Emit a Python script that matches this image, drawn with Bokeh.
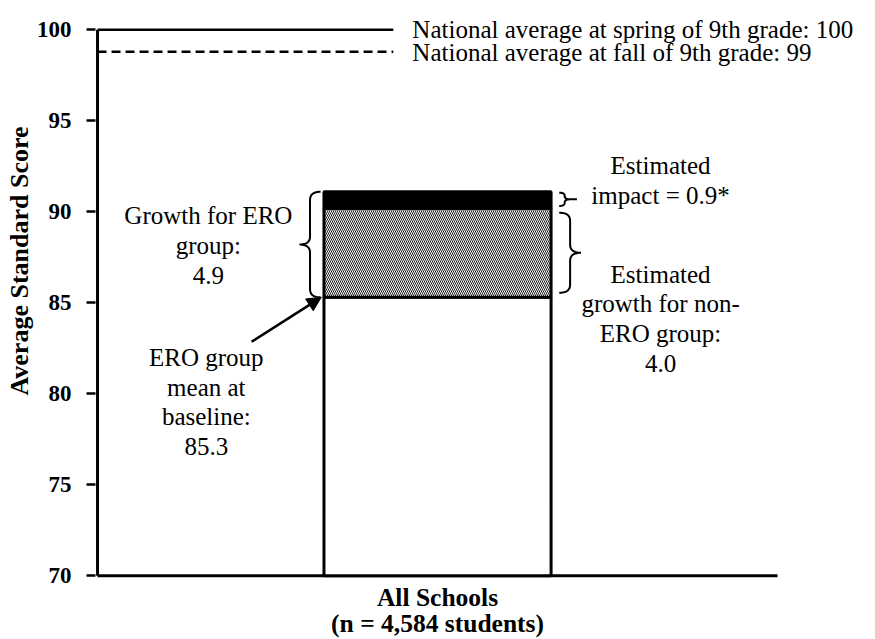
import numpy as np
from bokeh.plotting import figure
from bokeh.models import Label, Arrow, NormalHead, FixedTicker, Range1d
from bokeh.embed import file_html
from bokeh.resources import INLINE

# ---- data ----
categories = ["All Schools\n(n = 4,584 students)"]
baseline_mean = [85.3]
ero_growth = [4.9]
impact = [0.9]
non_ero_growth = [4.0]
national_spring = [100]
national_fall = [98.8]
y_ticks = [70, 75, 80, 85, 90, 95, 100]
y_min, y_max = 70, 100

FONT = "Liberation Serif"
BLACK = "#000000"

p = figure(frame_width=770, frame_height=570,
           x_range=Range1d(-0.003, 1.1294), y_range=Range1d(69.85, 101.17),
           output_backend="svg", toolbar_location=None,
           min_border_left=95, min_border_right=0,
           min_border_top=8, min_border_bottom=50)
p.outline_line_color = None
p.xgrid.visible = False
p.ygrid.visible = False
p.background_fill_color = "white"
p.border_fill_color = "white"

xc = [0.5]
bw = 0.334
base = [y_min]
ero_top = [b + g for b, g in zip(baseline_mean, ero_growth)]
bar_top = [e + i for e, i in zip(ero_top, impact)]

# axis lines (drawn as segments so they stop where the reference does)
p.segment(x0=[0], y0=[y_min], x1=[0], y1=[y_max], line_color=BLACK, line_width=3)
p.segment(x0=[0], y0=[y_min], x1=[1], y1=[y_min], line_color=BLACK, line_width=3)

p.vbar(x=xc, width=bw, bottom=base, top=baseline_mean, fill_color="white",
       line_color=BLACK, line_width=3)
p.vbar(x=xc, width=bw, bottom=baseline_mean, top=ero_top, fill_color="white",
       hatch_pattern="\\", hatch_color=BLACK, hatch_scale=4, hatch_weight=0.9,
       line_color=BLACK, line_width=3)
p.vbar(x=xc, width=bw, bottom=ero_top, top=bar_top, fill_color=BLACK,
       line_color=BLACK, line_width=3)

# national averages
line_end = 0.435
p.segment(x0=[0], y0=national_spring, x1=[line_end], y1=national_spring,
          line_color=BLACK, line_width=2.5)
p.segment(x0=[0], y0=national_fall, x1=[line_end], y1=national_fall,
          line_color=BLACK, line_width=2.5, line_dash="9 5")


def lab(x, y, text, align="center", size="25px"):
    p.add_layout(Label(x=x, y=y, text=text, text_font=FONT, text_font_size=size,
                       text_align=align, text_baseline="middle",
                       text_line_height=1.1, text_color=BLACK))


lab(0.463, national_spring[0] + 0.02, f"National average at spring of 9th grade: {national_spring[0]}", align="left")
lab(0.463, national_fall[0] - 0.05, f"National average at fall of 9th grade: {round(national_fall[0])}", align="left")
lab(0.163, 88.14, f"Growth for ERO\ngroup:\n{ero_growth[0]}")
lab(0.160, 79.54, f"ERO group\nmean at\nbaseline:\n{baseline_mean[0]}")
lab(0.828, 91.72, f"Estimated\nimpact = {impact[0]}*")
lab(0.828, 84.13, f"Estimated\ngrowth for non-\nERO group:\n{non_ero_growth[0]}")


def brace(x_base, x_tip, y0, y1, r):
    xm = (x_base + x_tip) / 2
    ym = (y0 + y1) / 2
    t = np.linspace(0, 1, 14)

    def quad(a, c, b):
        return ((1 - t) ** 2 * a[0] + 2 * (1 - t) * t * c[0] + t ** 2 * b[0],
                (1 - t) ** 2 * a[1] + 2 * (1 - t) * t * c[1] + t ** 2 * b[1])
    segs = [quad((x_base, y1), (xm, y1), (xm, y1 - r)),
            quad((xm, ym + r), (xm, ym), (x_tip, ym)),
            quad((x_tip, ym), (xm, ym), (xm, ym - r)),
            quad((xm, y0 + r), (xm, y0), (x_base, y0))]
    return np.concatenate([s[0] for s in segs]), np.concatenate([s[1] for s in segs])


left = xc[0] - bw / 2
right = xc[0] + bw / 2
bx, by = brace(left - 0.005, left - 0.036, baseline_mean[0], bar_top[0], 0.45)
p.line(bx, by, line_color=BLACK, line_width=2)
bx, by = brace(right + 0.012, right + 0.044, baseline_mean[0] + 0.25, ero_top[0] - 0.25, 0.45)
p.line(bx, by, line_color=BLACK, line_width=2)
bx, by = brace(right + 0.012, right + 0.028, ero_top[0] + 0.12, bar_top[0] - 0.05, 0.18)
p.line(bx, by, line_color=BLACK, line_width=2)
ym_imp = (ero_top[0] + 0.12 + bar_top[0] - 0.05) / 2
p.segment(x0=[right + 0.028], y0=[ym_imp], x1=[right + 0.038], y1=[ym_imp],
          line_color=BLACK, line_width=2)

p.add_layout(Arrow(end=NormalHead(size=14, fill_color=BLACK, line_color=BLACK),
                   x_start=0.2265, y_start=82.86, x_end=left - 0.004, y_end=baseline_mean[0],
                   line_color=BLACK, line_width=2.5))

# axes
ya = p.yaxis[0]
ya.ticker = FixedTicker(ticks=y_ticks)
ya.axis_line_color = None
ya.major_tick_line_width = 2.5
ya.major_tick_line_color = BLACK
ya.major_tick_out = 9
ya.major_tick_in = 0
ya.minor_tick_line_color = None
ya.major_label_text_font = FONT
ya.major_label_text_font_size = "23px"
ya.major_label_text_font_style = "bold"
ya.major_label_text_color = BLACK
ya.major_label_standoff = 15
ya.axis_label = "\u00a0" * 10 + "Average Standard Score"
ya.axis_label_text_font = FONT
ya.axis_label_text_font_size = "26px"
ya.axis_label_text_font_style = "bold"
ya.axis_label_text_color = BLACK
ya.axis_label_standoff = 0

xa = p.xaxis[0]
xa.ticker = FixedTicker(ticks=xc)
xa.major_label_overrides = {xc[0]: categories[0]}
xa.axis_line_color = None
xa.major_tick_line_color = None
xa.minor_tick_line_color = None
xa.major_label_text_font = FONT
xa.major_label_text_font_size = "25.5px"
xa.major_label_text_font_style = "bold"
xa.major_label_text_color = BLACK
xa.major_label_text_line_height = 0.9
xa.major_label_standoff = -2

open("out.html", "w").write(file_html(p, INLINE))
